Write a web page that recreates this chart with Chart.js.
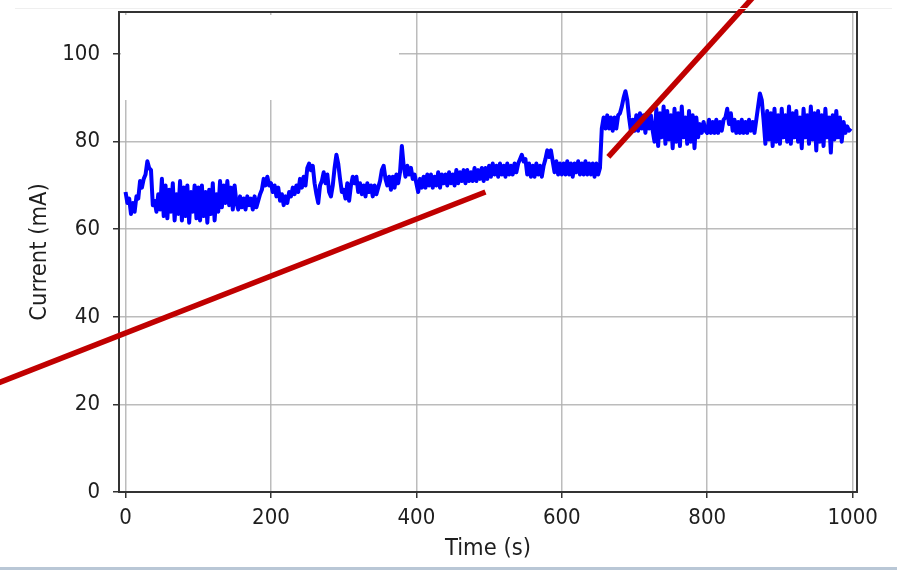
<!DOCTYPE html>
<html>
<head>
<script src="https://cdn.jsdelivr.net/npm/chart.js"></script>
<style>
  body { margin:0; background:#fff; }
  canvas { display:block; }
</style>
</head>
<body>
<canvas id="myChart" width="897" height="570"></canvas>
<script>
  // current readings, one every sampleStep seconds starting at t=0 (one block = 100 s)
  var sampleStep = 2.5;
  var currentMa = [
    68.5, 66, 67, 63.5, 66, 64, 67.5, 67, 71, 69.5, 71.5, 72.5, 75.5, 74, 73.5, 65.5, 66.5, 64, 68, 64.5, 71.5,
    63, 70, 62.5, 69, 64, 70.5, 62, 68, 63.5, 71, 62, 69.5, 63, 70, 61.5, 68.5, 64, 70, 62.5,

    69.5, 62, 70, 63, 68.5, 61.5, 69, 63.5, 70.5, 62, 68, 64, 71,
    65, 70, 66, 71, 65.5, 69.5, 64.5, 70, 66,
    64.5, 67.5, 65, 67, 64.5, 67.5, 65.5, 67, 64.5, 67.5, 65, 66.5, 68,
    69, 71.5, 70, 72, 70,

    70.5, 68.5, 70, 67.5, 69.5, 66.5, 68, 65.5, 67.5, 66, 68.5, 67.5, 69.5, 68, 70,
    68.5, 71.5, 69.5, 72, 70, 74, 75, 73.5, 74.5, 70.5, 68, 66, 70, 71,
    73, 70.5, 72.5, 68.5, 67.5, 70, 74, 77, 75, 71.5, 68.5,

    69, 67, 70.5, 66.5, 70, 72, 70.5, 72, 68.5,
    70.5, 68, 70, 67.5, 70.5, 68.5, 70, 67.5, 70, 68, 69.5,
    71, 73.5, 74.5, 71.5, 70, 72, 69, 72, 69.5, 72.5, 70.5, 73,
    79, 74.5, 72, 74.5, 72.5, 74, 71.5, 72.5,

    70.5, 68.5, 71.5, 69.5, 72, 69.5, 72.5, 70, 72.5, 69.5, 72, 70, 73, 69.5, 72.5,
    70.5, 72.5, 70, 73, 70.5, 72.5, 70, 73.5, 70.5, 73, 71, 73.5, 70.5, 73.5, 71,
    73, 71, 74, 71, 73.5, 71.5, 74, 71, 74, 71.5,

    74.5, 72, 75, 72.5, 74.5, 72, 75, 72.5, 74.5, 72, 75, 72.5, 74.5, 72.5, 75, 73, 75,
    76, 77, 75.5, 76, 72.5, 75, 72, 74.5, 72, 75, 72.5, 74.5, 72, 74.5,
    76, 78, 76.5, 78, 75.5, 73, 75.5, 72.5, 75,

    72.5, 75, 72.5, 75.5, 72.5, 75, 72, 75, 73, 75.5, 72.5, 75, 72.5, 75.5, 72.5, 75,
    72.5, 75, 72, 75, 72.5, 74,
    83, 85.5, 83, 86, 83, 85.5, 82.5, 85.5, 83, 86, 86.5, 88, 90, 91.5, 89.5, 85.5, 82.5, 85,

    82.5, 86, 82.5, 86.5, 83, 86, 82, 86.5, 83, 86, 82.5,
    80, 87.5, 79, 86.5, 81, 88, 79.5, 87, 80.5, 86, 78.5, 87.5, 80, 86.5, 79, 88,
    81, 85.5, 79.5, 87, 80, 86, 78.5, 85.5, 81, 84, 82, 84.5, 82.5,

    82, 85, 82, 84.5, 82, 85, 82, 84.5, 82.5, 85, 85.5, 87.5, 84, 86.5, 82.5,
    85, 82, 84.5, 82, 85, 82, 84.5, 82, 85, 82.5, 84.5, 82, 85,
    88, 91, 89.5, 85, 79.5, 87, 80.5, 86.5, 79, 87.5, 80, 86,

    79.5, 87.5, 81, 86, 80, 88, 79.5, 86.5, 81, 87, 80, 85.5, 78.5, 87.5, 81,
    86, 79.5, 88, 80.5, 86.5, 78, 87, 80, 86, 79, 87.5, 81, 85.5, 77.5, 86,
    80.5, 87, 81, 85.5, 80, 84.5, 82, 83.5, 82.5, 83
  ];

  // the two red strokes drawn over the plot (end points in data units)
  var redLine1Time = [-186, 495];
  var redLine1Ma = [24.2, 68.5];
  var redLine2Time = [664, 872];
  var redLine2Ma = [76.5, 114.6];

  var xTickValues = [0, 200, 400, 600, 800, 1000];
  var yTickValues = [0, 20, 40, 60, 80, 100];
  var xMin = -9, xMax = 1006;
  var yMin = 0, yMax = 109.6;

  var FONT = '"DejaVu Sans Condensed", "DejaVu Sans", sans-serif';
  var TEXT_COLOR = '#1e1e1e';
  var GRID_COLOR = 'rgba(176,176,176,0.85)';

  function toPoints(xs, ys) {
    var ret = [];
    for (var i=0;i<xs.length;i++) ret.push({x:xs[i], y:ys[i]});
    return ret;
  }

  var currentPoints = [];
  for (var i=0;i<currentMa.length;i++) currentPoints.push({x:i*sampleStep, y:currentMa[i]});

  var framePlugin = {
    id: 'frame',
    beforeDatasetsDraw: function(chart) {
      // white patch over the grid in the top-left corner, as in the source image
      var ctx = chart.ctx;
      ctx.save();
      ctx.fillStyle = '#fff';
      ctx.fillRect(121, 15, 278, 85);
      ctx.restore();
    },
    afterDatasetDraw: function(chart, args) {
      if (args.index != 0) return; // spines go right above the blue trace
      var a = chart.chartArea;
      var ctx = chart.ctx;
      ctx.save();
      ctx.strokeStyle = '#333';
      ctx.lineWidth = 2;
      ctx.strokeRect(a.left, a.top, a.right - a.left, a.bottom - a.top);
      ctx.restore();
    },
    afterDraw: function(chart) {
      var ctx = chart.ctx;
      ctx.save();
      ctx.fillStyle = '#efefef';
      ctx.fillRect(15, 8, 877, 1);
      ctx.fillStyle = '#b9c7d6';
      ctx.fillRect(0, 567, 897, 3);
      ctx.restore();
    }
  };

  var ctx = document.getElementById('myChart');
  var chart = new Chart(ctx, {
    type: 'line',
    data: {
      datasets: [
        {data: currentPoints, borderColor:'#0000ff', borderWidth:4, pointRadius:0,
         borderJoinStyle:'round', tension:0, order:2},
        {data: toPoints(redLine1Time, redLine1Ma), borderColor:'#c00000', borderWidth:5.5,
         pointRadius:0, borderCapStyle:'butt', clip:false, order:1},
        {data: toPoints(redLine2Time, redLine2Ma), borderColor:'#c00000', borderWidth:5.5,
         pointRadius:0, borderCapStyle:'butt', clip:false, order:1}
      ]
    },
    plugins: [framePlugin],
    options: {
      responsive: false,
      animation: false,
      layout: { padding: {left:0, right:40, top:12, bottom:0} },
      plugins: { legend: {display:false}, tooltip: {enabled:false} },
      scales: {
        x: {
          type: 'linear', min: xMin, max: xMax,
          afterBuildTicks: function(s) { s.ticks = xTickValues.map(function(v){ return {value:v}; }); },
          afterFit: function(s) { s.height = 78; },
          border: {display:false},
          grid: {color:GRID_COLOR, lineWidth:1.5, tickLength:6, tickColor:'#333', tickWidth:1.5},
          ticks: {font:{family:FONT, size:22}, color:TEXT_COLOR, padding:7, maxRotation:0, autoSkip:false,
                  callback: function(v) { return String(v); }},
          title: {display:true, text:'Time (s)', font:{family:FONT, size:23.5}, color:TEXT_COLOR,
                  padding:{top:0, bottom:7}}
        },
        y: {
          type: 'linear', min: yMin, max: yMax,
          afterBuildTicks: function(s) { s.ticks = yTickValues.map(function(v){ return {value:v}; }); },
          afterFit: function(s) { s.width = 119; s.paddingTop = 0; s.paddingBottom = 0; },
          border: {display:false},
          grid: {color:GRID_COLOR, lineWidth:1.5, tickLength:6, tickColor:'#333', tickWidth:1.5},
          ticks: {font:{family:FONT, size:22}, color:TEXT_COLOR, padding:13},
          title: {display:true, text:'Current (mA)', font:{family:FONT, size:23.5}, color:TEXT_COLOR,
                  padding:{top:26, bottom:0}}
        }
      }
    }
  });
</script>
</body>
</html>
